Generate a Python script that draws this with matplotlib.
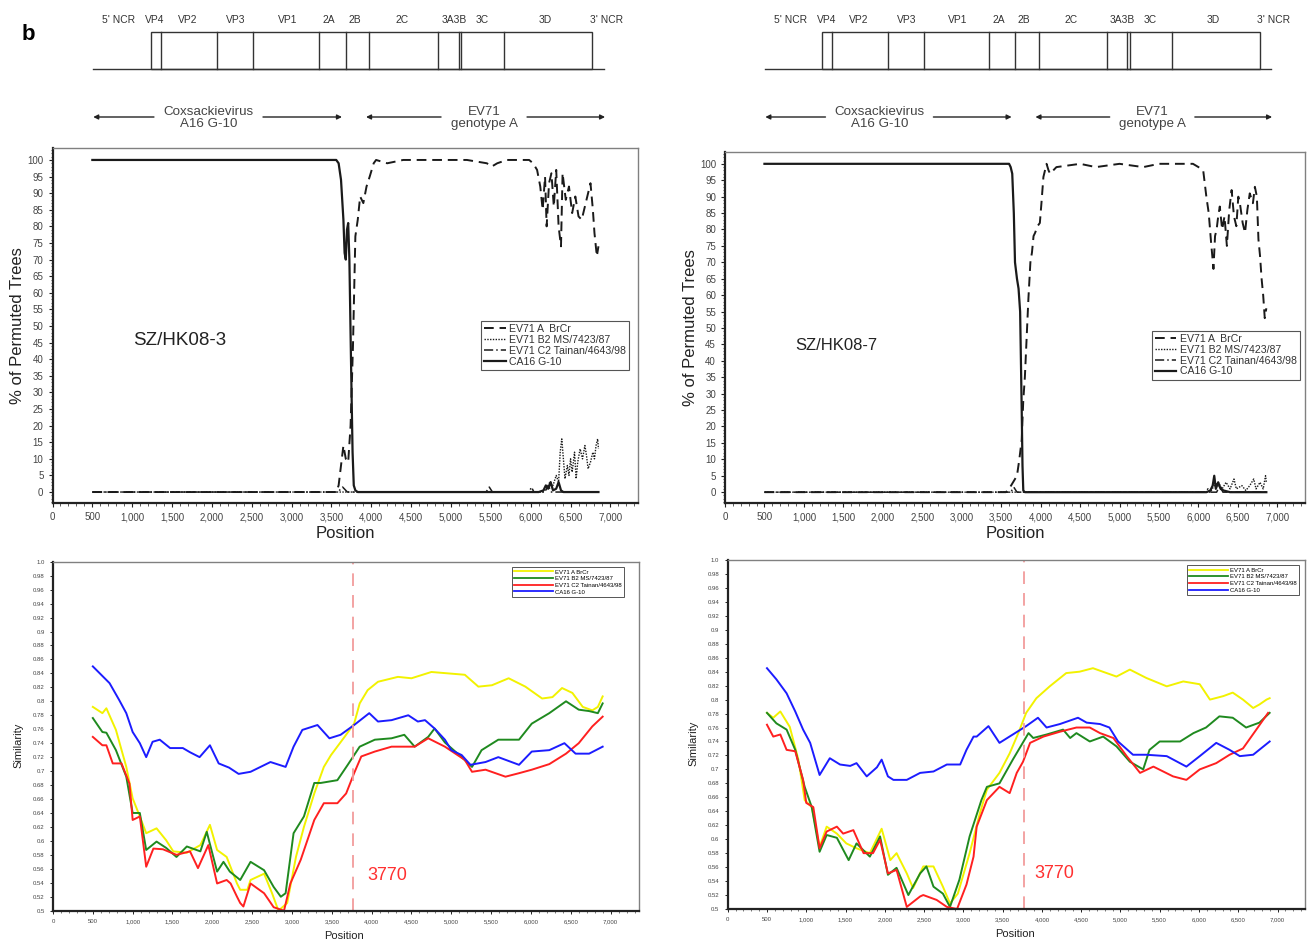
"""
Recombination analysis of SZ/HK08-3 and SZ/HK08-7: genome map, bootscan
(% of permuted trees) and similarity plots against the parental strains.
"""

import matplotlib
matplotlib.use("Agg")
import matplotlib.pyplot as plt
from matplotlib.lines import Line2D
from matplotlib.patches import Rectangle
from matplotlib.ticker import FixedLocator, FuncFormatter, MultipleLocator

matplotlib.rcParams.update(
    {
        "font.family": ["Liberation Sans", "DejaVu Sans"],
        "font.size": 8,
        "axes.linewidth": 1.0,
    }
)

FIG_W, FIG_H = 1309, 946
BREAKPOINT = 3770

# ---- genome map (nucleotide positions on the plot scale) ----
GENE_BOUNDS = [1230, 1360, 2068, 2520, 3350, 3680, 3975, 4835, 5095, 5130, 5660, 6775]
GENE_LABELS = ["5' NCR", "VP4", "VP2", "VP3", "VP1", "2A", "2B", "2C", "3A3B", "3C", "3D", "3' NCR"]
GENE_LABEL_POS = [830, 1286, 1700, 2300, 2950, 3470, 3790, 4390, 5040, 5390, 6180, 6950]
GENOME_SPAN = [512, 6920]
CA16_ARROW = [511, 1273, 2641, 3632]
EV71_ARROW = [3934, 4875, 5954, 6933]
PARENT_NAMES = ["Coxsackievirus\nA16 G-10", "EV71\ngenotype A"]

# ---- bootscan, SZ/HK08-3 ----
HK3_A_POS = [500, 3560, 3590, 3620, 3650, 3680, 3710, 3740, 3770, 3800, 3830, 3860, 3900, 3940, 3980, 4030,
             4060, 4200, 4400, 4800, 5200, 5450, 5510, 5580, 5700, 5980, 6030, 6080, 6120, 6150, 6180, 6200,
             6230, 6260, 6290, 6320, 6350, 6380, 6400, 6440, 6480, 6520, 6560, 6600, 6640, 6680, 6720, 6750,
             6780, 6800, 6830, 6850]
HK3_A_VAL = [0, 0, 2, 8, 14, 10, 9, 20, 44, 77, 82, 89, 87, 92, 95, 99, 100, 99, 100, 100, 100, 99, 98, 99,
             100, 100, 99, 97, 92, 85, 95, 80, 93, 96, 86, 97, 80, 74, 96, 88, 92, 84, 89, 83, 82, 86, 90, 93,
             85, 78, 71, 74]
HK3_B2_POS = [500, 6150, 6200, 6240, 6280, 6320, 6350, 6370, 6390, 6410, 6430, 6460, 6480, 6500, 6520,
              6550, 6570, 6590, 6620, 6650, 6680, 6700, 6720, 6750, 6780, 6800, 6820, 6840, 6850]
HK3_B2_VAL = [0, 0, 1, 3, 2, 5, 3, 12, 16, 10, 4, 8, 5, 10, 6, 12, 4, 9, 13, 10, 14, 11, 7, 9, 12, 10, 14, 16, 13]
HK3_C2_POS = [500, 3580, 3640, 3700, 5440, 5480, 5520, 5980, 6010, 6040, 6180, 6220, 6260, 6850]
HK3_C2_VAL = [0, 0, 1.5, 0, 0, 1.5, 0, 0, 1.5, 0, 0, 2, 0, 0]
HK3_CA16_POS = [500, 3560, 3590, 3620, 3650, 3665, 3680, 3695, 3710, 3725, 3745, 3765, 3780, 3800, 3830,
                6100, 6160, 6190, 6220, 6250, 6280, 6320, 6350, 6380, 6410, 6850]
HK3_CA16_VAL = [100, 100, 99, 94, 82, 72, 70, 79, 81, 70, 40, 12, 2, 0.5, 0, 0, 0.5, 2, 1, 3, 0.5, 1, 3,
                0.5, 0, 0]

# ---- bootscan, SZ/HK08-7 ----
HK7_A_POS = [500, 3560, 3600, 3650, 3700, 3730, 3760, 3780, 3800, 3845, 3870, 3890, 3910, 3930, 3960, 3990,
             4010, 4035, 4075, 4100, 4120, 4200, 4500, 4700, 5000, 5300, 5500, 5700, 5930, 6000, 6060, 6100,
             6130, 6160, 6190, 6210, 6230, 6250, 6270, 6300, 6330, 6360, 6390, 6420, 6450, 6480, 6505, 6525,
             6560, 6590, 6620, 6650, 6690, 6715, 6740, 6760, 6780, 6800, 6820, 6840, 6860]
HK7_A_VAL = [0, 0, 1, 3, 5, 10, 16, 28, 35, 59, 70, 73, 78, 79, 81, 82, 88, 96, 100, 98, 97, 99, 100, 99,
             100, 99, 100, 100, 100, 99, 98, 90, 85, 76, 68, 78, 80, 84, 87, 80, 84, 75, 86, 92, 84, 81, 90,
             88, 82, 79, 86, 91, 88, 93, 90, 77, 72, 65, 60, 53, 56]
HK7_B2_POS = [500, 6150, 6200, 6250, 6300, 6350, 6400, 6450, 6480, 6550, 6600, 6650, 6700, 6730, 6780,
              6820, 6850, 6860]
HK7_B2_VAL = [0, 0, 2, 3, 1, 3, 1, 4, 1, 2, 0.5, 2, 4, 1, 3, 1, 5, 3]
HK7_C2_POS = [500, 3620, 3660, 3700, 6080, 6120, 6160, 6230, 6270, 6310, 6860]
HK7_C2_VAL = [0, 0, 1.5, 0, 0, 1, 0, 0, 2, 0, 0]
HK7_CA16_POS = [500, 3600, 3620, 3640, 3660, 3675, 3700, 3720, 3740, 3750, 3760, 3770, 3780, 3800, 6100,
                6150, 6180, 6200, 6220, 6250, 6280, 6320, 6400, 6860]
HK7_CA16_VAL = [100, 100, 99, 97, 85, 70, 65, 62, 55, 40, 25, 8, 0.5, 0, 0, 0.5, 2, 5, 1, 3, 1, 0.5, 0, 0]

# ---- similarity, SZ/HK08-3 ----
HK3_SIM_A_POS = [500, 620, 670, 790, 920, 1000, 1090, 1170, 1300, 1420, 1510, 1680, 1850, 1970, 2060, 2180,
                 2310, 2350, 2440, 2480, 2650, 2750, 2830, 2940, 3050, 3150, 3280, 3400, 3490, 3660, 3780,
                 3850, 3950, 4080, 4330, 4500, 4750, 4960, 5170, 5340, 5510, 5720, 5930, 6140, 6270, 6390,
                 6520, 6650, 6770, 6840, 6900]
HK3_SIM_A_VAL = [.792, .783, .790, .759, .706, .661, .635, .611, .618, .601, .585, .583, .594, .623, .587,
                 .577, .539, .530, .530, .544, .553, .525, .500, .511, .577, .620, .668, .706, .723, .749,
                 .768, .797, .816, .828, .835, .833, .842, .840, .838, .821, .823, .833, .821, .804, .806,
                 .819, .812, .792, .787, .792, .807]
HK3_SIM_B2_POS = [500, 620, 670, 790, 920, 1000, 1090, 1170, 1300, 1420, 1550, 1680, 1850, 1930, 2060, 2140,
                  2220, 2350, 2480, 2650, 2770, 2860, 2920, 3020, 3150, 3280, 3360, 3570, 3700, 3850, 4040,
                  4250, 4410, 4540, 4710, 4790, 4920, 5130, 5260, 5380, 5590, 5850, 6010, 6230, 6440, 6600,
                  6730, 6840, 6900]
HK3_SIM_B2_VAL = [.776, .756, .755, .730, .692, .640, .640, .587, .599, .590, .577, .592, .585, .613, .556,
                  .570, .556, .544, .570, .558, .534, .520, .525, .611, .635, .683, .683, .687, .709, .735,
                  .745, .747, .752, .735, .749, .761, .741, .720, .706, .730, .745, .745, .768, .783, .800,
                  .788, .786, .783, .797]
HK3_SIM_C2_POS = [500, 620, 670, 750, 860, 960, 1000, 1090, 1170, 1260, 1380, 1550, 1720, 1820, 1950, 2060,
                  2180, 2230, 2310, 2350, 2390, 2480, 2650, 2770, 2900, 2980, 3110, 3280, 3400, 3570, 3680,
                  3780, 3870, 4040, 4250, 4540, 4710, 4920, 5170, 5260, 5430, 5680, 5850, 6010, 6230, 6440,
                  6600, 6770, 6900]
HK3_SIM_C2_VAL = [.749, .737, .737, .711, .711, .682, .630, .635, .563, .589, .588, .580, .585, .561, .594,
                  .539, .544, .539, .520, .511, .506, .539, .525, .505, .500, .539, .573, .630, .654, .654,
                  .668, .697, .721, .728, .735, .735, .747, .735, .716, .699, .702, .692, .697, .702, .710,
                  .725, .740, .764, .778]
HK3_SIM_CA16_POS = [500, 710, 830, 920, 1000, 1090, 1170, 1250, 1340, 1470, 1630, 1720, 1840, 1970, 2080,
                    2210, 2330, 2480, 2730, 2920, 3020, 3130, 3320, 3470, 3610, 3780, 3970, 4080, 4250, 4460,
                    4580, 4670, 4790, 4920, 5000, 5130, 5240, 5430, 5590, 5850, 6010, 6230, 6420, 6560,
                    6730, 6900]
HK3_SIM_CA16_VAL = [.850, .826, .802, .783, .756, .740, .720, .742, .745, .733, .733, .727, .720, .737,
                    .711, .705, .696, .699, .713, .706, .735, .759, .766, .747, .752, .766, .783, .771, .773,
                    .780, .771, .773, .761, .745, .730, .723, .709, .713, .720, .709, .728, .730, .740, .725,
                    .725, .735]

# ---- similarity, SZ/HK08-7 ----
HK7_SIM_A_POS = [500, 580, 670, 790, 900, 980, 1070, 1170, 1260, 1390, 1510, 1640, 1810, 1960, 2070, 2150,
                 2280, 2360, 2490, 2620, 2740, 2830, 2930, 3080, 3210, 3300, 3460, 3590, 3700, 3800, 3930,
                 4100, 4310, 4480, 4650, 4950, 5120, 5330, 5590, 5800, 6010, 6140, 6310, 6430, 6560, 6690,
                 6770, 6860, 6900]
HK7_SIM_A_VAL = [.781, .774, .783, .761, .714, .656, .646, .589, .618, .608, .594, .587, .580, .615, .570,
                 .580, .551, .530, .561, .561, .532, .508, .522, .580, .637, .671, .695, .723, .752, .781,
                 .802, .819, .838, .840, .845, .833, .843, .831, .819, .826, .822, .800, .805, .810, .800,
                 .788, .793, .800, .802]
HK7_SIM_B2_POS = [500, 620, 750, 860, 980, 1070, 1170, 1260, 1390, 1540, 1640, 1810, 1940, 2040, 2150, 2300,
                  2450, 2530, 2620, 2740, 2830, 2950, 3080, 3230, 3300, 3460, 3630, 3830, 3890, 4060, 4270,
                  4360, 4440, 4610, 4780, 4950, 5120, 5290, 5370, 5500, 5760, 5930, 6090, 6260, 6430, 6600,
                  6770, 6900]
HK7_SIM_B2_VAL = [.781, .766, .757, .728, .675, .646, .582, .606, .602, .570, .594, .575, .604, .549, .559,
                  .520, .551, .561, .532, .522, .503, .542, .604, .656, .675, .680, .714, .752, .745, .750,
                  .757, .745, .752, .740, .747, .733, .711, .700, .728, .740, .740, .752, .760, .776, .774,
                  .760, .767, .781]
HK7_SIM_C2_POS = [500, 580, 670, 750, 860, 960, 1000, 1090, 1170, 1260, 1390, 1470, 1600, 1730, 1850, 1940,
                  2040, 2150, 2280, 2450, 2490, 2660, 2790, 2920, 3040, 3130, 3170, 3300, 3460, 3590, 3680,
                  3760, 3850, 4020, 4230, 4440, 4610, 4740, 4910, 5080, 5250, 5420, 5670, 5840, 6010, 6220,
                  6390, 6560, 6730, 6880]
HK7_SIM_C2_VAL = [.764, .747, .750, .728, .726, .685, .652, .646, .587, .611, .618, .608, .613, .580, .580,
                  .599, .551, .556, .503, .518, .520, .513, .503, .500, .535, .575, .618, .656, .675, .666,
                  .695, .711, .738, .747, .754, .760, .760, .752, .745, .719, .695, .704, .690, .685, .700,
                  .709, .721, .730, .757, .781]
HK7_SIM_CA16_POS = [500, 620, 750, 860, 960, 1050, 1170, 1300, 1430, 1560, 1640, 1770, 1900, 1960, 2040,
                    2110, 2280, 2450, 2620, 2790, 2960, 3040, 3130, 3170, 3320, 3460, 3630, 3800, 3950, 4060,
                    4230, 4460, 4570, 4740, 4860, 4970, 5160, 5330, 5590, 5840, 6010, 6220, 6390, 6520,
                    6690, 6900]
HK7_SIM_CA16_VAL = [.845, .829, .809, .783, .757, .738, .692, .716, .707, .705, .709, .690, .703, .714,
                    .690, .685, .685, .695, .697, .707, .707, .728, .747, .747, .762, .738, .750, .762, .774,
                    .760, .765, .774, .767, .765, .760, .740, .721, .721, .719, .704, .719, .738, .728, .719,
                    .721, .740]

SERIES_NAMES = ["EV71 A  BrCr", "EV71 B2 MS/7423/87", "EV71 C2 Tainan/4643/98", "CA16 G-10"]
SIM_NAMES = ["EV71 A BrCr", "EV71 B2 MS/7423/87", "EV71 C2 Tainan/4643/98", "CA16 G-10"]
SIM_COLORS = ["#f2f200", "#1f8a1f", "#ff2020", "#1c1cff"]
BOOT_STYLES = [
    dict(linestyle=(0, (5, 3)), linewidth=1.4),
    dict(linestyle=(0, (1, 1)), linewidth=1.0),
    dict(linestyle=(0, (6, 2, 1, 2)), linewidth=1.1),
    dict(linestyle="-", linewidth=1.6),
]

PANELS = [
    dict(
        name="SZ/HK08-3",
        name_xy=(1010, 45.5),
        map_px=(52.5, 0, 638.3, 140),
        boot_px=(52.5, 148, 638.3, 503),
        sim_px=(53, 561.7, 638.5, 910.7),
        boot=[(HK3_A_POS, HK3_A_VAL), (HK3_B2_POS, HK3_B2_VAL), (HK3_C2_POS, HK3_C2_VAL),
              (HK3_CA16_POS, HK3_CA16_VAL)],
        sim=[(HK3_SIM_A_POS, HK3_SIM_A_VAL), (HK3_SIM_B2_POS, HK3_SIM_B2_VAL),
             (HK3_SIM_C2_POS, HK3_SIM_C2_VAL), (HK3_SIM_CA16_POS, HK3_SIM_CA16_VAL)],
        boot_legend=(0.732, 0.513),
        sim_legend=(0.784, 0.985),
        label_x=3940,
        name_size=13.5,
    ),
    dict(
        name="SZ/HK08-7",
        name_xy=(890, 44.7),
        map_px=(725, 0, 1305, 140),
        boot_px=(725, 152, 1305, 503),
        sim_px=(727.7, 560, 1305, 909),
        boot=[(HK7_A_POS, HK7_A_VAL), (HK7_B2_POS, HK7_B2_VAL), (HK7_C2_POS, HK7_C2_VAL),
              (HK7_CA16_POS, HK7_CA16_VAL)],
        sim=[(HK7_SIM_A_POS, HK7_SIM_A_VAL), (HK7_SIM_B2_POS, HK7_SIM_B2_VAL),
             (HK7_SIM_C2_POS, HK7_SIM_C2_VAL), (HK7_SIM_CA16_POS, HK7_SIM_CA16_VAL)],
        boot_legend=(0.736, 0.491),
        sim_legend=(0.795, 0.985),
        label_x=3910,
        name_size=12,
    ),
]

XMAX = 7350
INK = "#333333"


def add_px_axes(fig, box):
    left, top, right, bottom = box
    return fig.add_axes([left / FIG_W, 1 - bottom / FIG_H, (right - left) / FIG_W, (bottom - top) / FIG_H])


def style_frame(ax):
    for side in ("left", "bottom"):
        ax.spines[side].set_linewidth(1.6)
        ax.spines[side].set_color("#222222")
    for side in ("top", "right"):
        ax.spines[side].set_linewidth(1.0)
        ax.spines[side].set_color("#808080")


def comma_fmt(v, _pos):
    return f"{int(round(v)):,}"


def draw_map(ax):
    ax.set_xlim(0, XMAX)
    ax.set_ylim(140, 0)
    ax.axis("off")
    ax.plot(GENOME_SPAN, [69, 69], color=INK, linewidth=1.0)
    ax.add_patch(Rectangle((GENE_BOUNDS[0], 32), GENE_BOUNDS[-1] - GENE_BOUNDS[0], 37,
                           fill=False, edgecolor=INK, linewidth=1.0))
    for b in GENE_BOUNDS[1:-1]:
        ax.plot([b, b], [32, 69], color=INK, linewidth=1.0)
    for lab, x in zip(GENE_LABELS, GENE_LABEL_POS):
        ax.text(x, 20, lab, ha="center", va="center", fontsize=7.4, color=INK)

    for arrow, label in zip((CA16_ARROW, EV71_ARROW), PARENT_NAMES):
        head_l, gap_l, gap_r, head_r = arrow
        kw = dict(arrowstyle="-|>", color="#222222", lw=1.0, mutation_scale=7, shrinkA=0, shrinkB=0)
        ax.annotate("", xy=(head_l, 117), xytext=(gap_l, 117), arrowprops=kw)
        ax.annotate("", xy=(head_r, 117), xytext=(gap_r, 117), arrowprops=kw)
        ax.text((gap_l + gap_r) / 2, 118, label, ha="center", va="center", fontsize=9.6,
                color="#444444", linespacing=1.05)


def draw_bootscan(ax, panel):
    for (pos, val), style in zip(panel["boot"], BOOT_STYLES):
        ax.plot(pos, val, color="#1a1a1a", **style)
    ax.set_xlim(0, XMAX)
    ax.set_ylim(-3.3, 103.6)
    ax.xaxis.set_major_locator(FixedLocator(range(0, 7001, 500)))
    ax.xaxis.set_minor_locator(MultipleLocator(100))
    ax.xaxis.set_major_formatter(FuncFormatter(comma_fmt))
    ax.yaxis.set_major_locator(FixedLocator(range(0, 101, 5)))
    ax.yaxis.set_minor_locator(MultipleLocator(1))
    ax.tick_params(which="major", length=3, width=0.8, labelsize=7, colors="#222222", labelcolor="#444444")
    ax.tick_params(which="minor", length=1.8, width=0.6, colors="#444444")
    style_frame(ax)
    ax.set_ylabel("% of Permuted Trees", fontsize=12, color="#222222")
    ax.set_xlabel("Position", fontsize=12, color="#222222")
    ax.yaxis.set_label_coords(-0.047, 0.5)
    ax.xaxis.set_label_coords(0.5, -0.066)
    ax.text(panel["name_xy"][0], panel["name_xy"][1], panel["name"], fontsize=panel["name_size"],
            ha="left", va="center", color="#222222")

    handles = [Line2D([], [], color="#1a1a1a", **style) for style in BOOT_STYLES]
    leg = ax.legend(handles, SERIES_NAMES, loc="upper left", bbox_to_anchor=panel["boot_legend"],
                    borderaxespad=0, fontsize=7.6, frameon=True, fancybox=False, framealpha=1,
                    edgecolor="#555555", handlelength=2.0, handletextpad=0.35, labelspacing=0.08,
                    borderpad=0.3)
    leg.get_frame().set_linewidth(0.8)
    for t in leg.get_texts():
        t.set_color("#333333")


def draw_similarity(ax, panel):
    for (pos, val), color in zip(panel["sim"], SIM_COLORS):
        ax.plot(pos, val, color=color, linewidth=1.4)
    ax.axvline(BREAKPOINT, color="#f29c9c", linewidth=1.3, linestyle=(0, (7, 5)))
    ax.text(panel["label_x"], 0.551, str(BREAKPOINT), color="#ff3030", fontsize=13,
            ha="left", va="center")
    ax.set_xlim(0, XMAX)
    ax.set_ylim(0.5, 1.0)
    yt = [round(0.5 + 0.02 * i, 2) for i in range(26)]
    ax.yaxis.set_major_locator(FixedLocator(yt))
    ax.yaxis.set_major_formatter(FuncFormatter(lambda v, _p: "1.0" if v > 0.999 else f"{v:g}"))
    ax.xaxis.set_major_locator(FixedLocator(range(0, 7001, 500)))
    ax.xaxis.set_minor_locator(MultipleLocator(100))
    ax.xaxis.set_major_formatter(FuncFormatter(comma_fmt))
    ax.tick_params(which="major", length=2.5, width=0.7, labelsize=4.3, colors="#222222", labelcolor="#444444")
    ax.tick_params(which="minor", length=1.5, width=0.5, colors="#444444")
    style_frame(ax)
    ax.set_ylabel("Similarity", fontsize=8, color="#222222")
    ax.set_xlabel("Position", fontsize=8, color="#222222")
    ax.yaxis.set_label_coords(-0.05, 0.475)
    ax.xaxis.set_label_coords(0.497, -0.058)

    handles = [Line2D([], [], color=c, linewidth=1.3) for c in SIM_COLORS]
    leg = ax.legend(handles, SIM_NAMES, loc="upper left", bbox_to_anchor=panel["sim_legend"],
                    borderaxespad=0, fontsize=4.3, frameon=True, fancybox=False, framealpha=1,
                    edgecolor="#555555", handlelength=6.5, handletextpad=0.3, labelspacing=0.25,
                    borderpad=0.4)
    leg.get_frame().set_linewidth(0.7)


def main():
    fig = plt.figure(figsize=(FIG_W / 100, FIG_H / 100), dpi=100)
    for panel in PANELS:
        draw_map(add_px_axes(fig, panel["map_px"]))
        draw_bootscan(add_px_axes(fig, panel["boot_px"]), panel)
        draw_similarity(add_px_axes(fig, panel["sim_px"]), panel)
    fig.text(28 / FIG_W, 1 - 35 / FIG_H, "b", fontsize=16, fontweight="bold", ha="center", va="center")
    fig.savefig("out.png", dpi=100)
    plt.close(fig)


if __name__ == "__main__":
    main()
